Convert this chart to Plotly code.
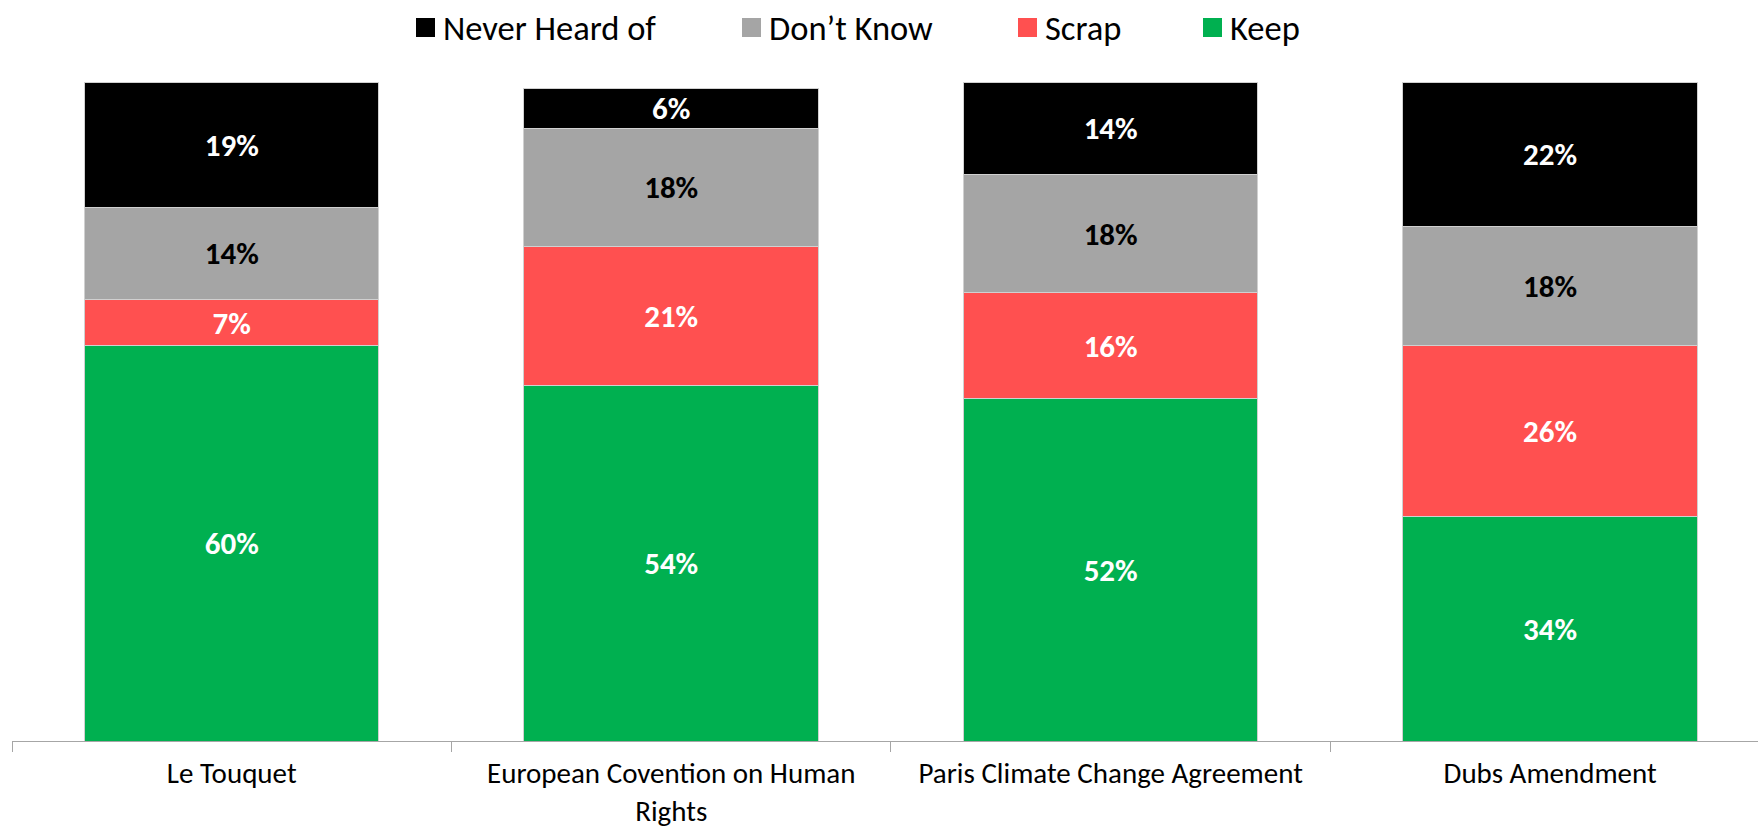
import plotly.graph_objects as go

categories = ["Le Touquet", "European Covention on Human<br>Rights",
              "Paris Climate Change Agreement", "Dubs Amendment"]
keep = [60, 54, 52, 34]
scrap = [7, 21, 16, 26]
dont_know = [14, 18, 18, 18]
never_heard = [19, 6, 14, 22]

series = [
    ("Keep", keep, "#00B050", "white"),
    ("Scrap", scrap, "#FF5050", "white"),
    ("Don\u2019t Know", dont_know, "#A5A5A5", "black"),
    ("Never Heard of", never_heard, "#000000", "white"),
]
legend_order = ["Never Heard of", "Don\u2019t Know", "Scrap", "Keep"]
legend_x_px = [416, 742, 1018, 1203]

W, H = 1758, 827
ML, MR, MT, MB = 12, 0, 82, 86
PW, PH = W - ML - MR, H - MT - MB
FONT = "Carlito, Lato, 'Open Sans', sans-serif"

fig = go.Figure()
for name, vals, color, tcolor in series:
    fig.add_trace(go.Bar(
        x=categories, y=vals, name=name,
        marker=dict(color=color, line=dict(color="#d0d0d0", width=1)),
        width=0.67,
        text=[f"{v}%" for v in vals],
        textposition="inside", insidetextanchor="middle", textangle=0,
        constraintext="none",
        textfont=dict(family=FONT, size=31, color=tcolor, weight="bold"),
        showlegend=False,
    ))

shapes = []
annotations = []
colors = {s[0]: s[2] for s in series}
for name, px in zip(legend_order, legend_x_px):
    x0 = (px - ML) / PW
    x1 = (px + 19 - ML) / PW
    y0 = (H - MB - 37) / PH
    y1 = (H - MB - 18) / PH
    shapes.append(dict(type="rect", xref="paper", yref="paper", x0=x0, x1=x1,
                       y0=y0, y1=y1, fillcolor=colors[name], line=dict(width=0)))
    annotations.append(dict(xref="paper", yref="paper", x=(px + 25 - ML) / PW,
                            y=(y0 + y1) / 2, xanchor="left", yanchor="middle",
                            text=name, showarrow=False,
                            font=dict(family=FONT, size=34.5, color="black")))

fig.update_layout(
    barmode="stack",
    width=W, height=H,
    margin=dict(l=ML, r=MR, t=MT, b=MB, pad=0, autoexpand=False),
    paper_bgcolor="white", plot_bgcolor="white",
    showlegend=False,
    shapes=shapes, annotations=annotations,
    xaxis=dict(range=[-0.5, 3.473], showline=True, linecolor="#A6A6A6", linewidth=1,
               ticks="outside", tickson="boundaries", ticklen=10, tickcolor="#A6A6A6",
               tickfont=dict(family=FONT, size=29, color="black"), automargin=False,
               showgrid=False, zeroline=False, ticklabelstandoff=6),
    yaxis=dict(range=[0, 100], visible=False, showgrid=False, zeroline=False,
               automargin=False),
)

fig.write_html("out.html")
